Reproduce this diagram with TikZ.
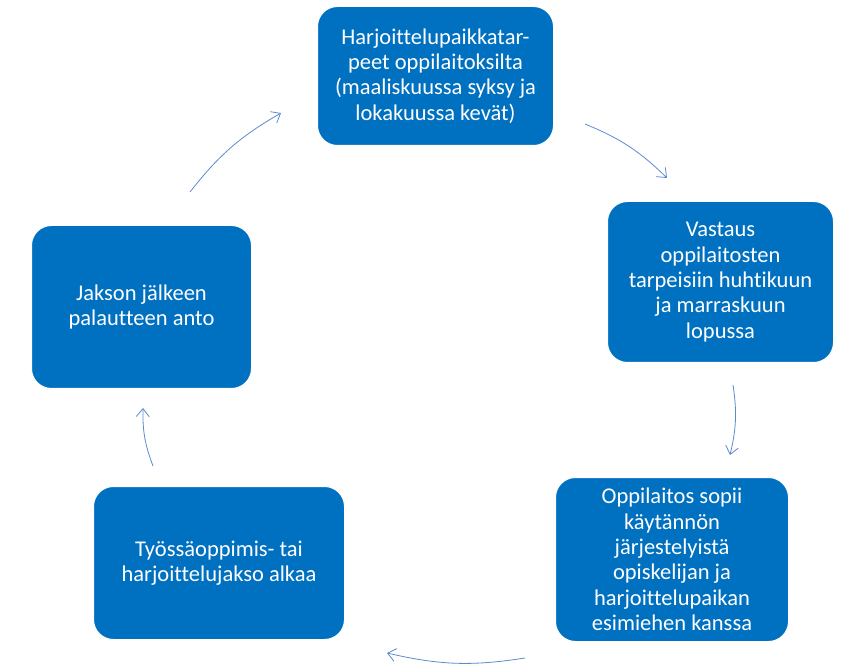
\documentclass[tikz,border=0pt]{standalone}
\usepackage{fontspec}
\setmainfont[Ligatures=NoCommon]{Carlito}
\usetikzlibrary{arrows.meta}
\definecolor{boxblue}{HTML}{0070C0}
\definecolor{arrowblue}{HTML}{5B8ACF}
\tikzset{
  stepbox/.style={draw=white, line width=1pt, fill=boxblue, rounded corners=20pt,
    text=white, align=center, font=\fontsize{22.5}{25.3}\selectfont, inner sep=0pt},
  cyclearrow/.style={draw=arrowblue, line width=0.8pt, bend left=11,
    -{Straight Barb[length=8pt,width=13pt]}}
}
\begin{document}
\begin{tikzpicture}[x=1pt,y=-1pt]
\useasboundingbox (0,0) rectangle (847,671);
% boxes of the cycle
\node[stepbox, minimum width=236pt, minimum height=139pt] (tarpeet) at (435.5,76)
  {Harjoittelupaikkatar-\\peet oppilaitoksilta\\(maaliskuussa syksy ja\\lokakuussa kevät)};
\node[stepbox, minimum width=226pt, minimum height=161pt] (vastaus) at (720.5,282)
  {Vastaus\\oppilaitosten\\tarpeisiin huhtikuun\\ja marraskuun\\lopussa};
\node[stepbox, minimum width=233pt, minimum height=164pt] (sopii) at (672,559.5)
  {Oppilaitos sopii\\käytännön\\järjestelyistä\\opiskelijan ja\\harjoittelupaikan\\esimiehen kanssa};
\node[stepbox, minimum width=251pt, minimum height=153pt] (alkaa) at (219,563)
  {Työssäoppimis- tai\\harjoittelujakso alkaa};
\node[stepbox, minimum width=220pt, minimum height=163pt] (palaute) at (141.5,307)
  {Jakson jälkeen\\palautteen anto};
% arrow ends
\coordinate (a1) at (585,124);
\coordinate (b1) at (667,178);
\coordinate (a2) at (733,385);
\coordinate (b2) at (730,455);
\coordinate (a3) at (525,658);
\coordinate (b3) at (387,653);
\coordinate (a4) at (153,466);
\coordinate (b4) at (143,408);
\coordinate (a5) at (190,192);
\coordinate (b5) at (281,113);
% arrows
\draw[cyclearrow] (a1) to (b1);
\draw[cyclearrow] (a2) to (b2);
\draw[cyclearrow] (a3) to (b3);
\draw[cyclearrow] (a4) to (b4);
\draw[cyclearrow] (a5) to (b5);
\end{tikzpicture}
\end{document}
